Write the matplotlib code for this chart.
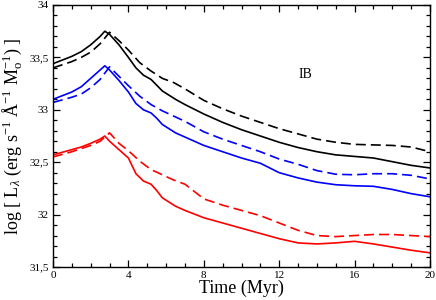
import matplotlib
matplotlib.use("Agg")
import matplotlib.pyplot as plt
from matplotlib.ticker import MultipleLocator, FixedLocator

plt.rcParams['font.family'] = ['Liberation Serif', 'DejaVu Serif']
plt.rcParams['mathtext.fontset'] = 'custom'
plt.rcParams['mathtext.rm'] = 'Liberation Serif'
plt.rcParams['mathtext.it'] = 'Liberation Serif:italic'

t_solid = [0, 1, 1.5, 2, 2.5, 2.75, 3, 3.5, 4, 4.4, 4.8, 5.2, 5.5, 5.8, 6.5, 7,
           8, 9, 10, 11, 12, 13, 14, 15, 16, 17, 18, 19, 20]
black_solid = [33.44, 33.51, 33.555, 33.62, 33.70, 33.75, 33.72, 33.62, 33.50, 33.40,
               33.33, 33.29, 33.235, 33.18, 33.10, 33.05, 32.96, 32.88, 32.81, 32.75,
               32.69, 32.64, 32.60, 32.57, 32.555, 32.54, 32.505, 32.47, 32.445]
blue_solid = [33.10, 33.17, 33.22, 33.30, 33.38, 33.42, 33.38, 33.28, 33.17, 33.06,
              33.00, 32.97, 32.92, 32.86, 32.78, 32.74, 32.66, 32.60, 32.54, 32.49,
              32.40, 32.35, 32.31, 32.285, 32.275, 32.27, 32.24, 32.20, 32.17]
red_solid = [32.57, 32.62, 32.645, 32.68, 32.72, 32.75, 32.70, 32.62, 32.54, 32.39,
             32.32, 32.29, 32.23, 32.16, 32.08, 32.04, 31.97, 31.92, 31.87, 31.82,
             31.77, 31.73, 31.72, 31.73, 31.745, 31.72, 31.69, 31.66, 31.635]

t_dashed = [0, 1, 1.5, 2, 2.5, 3, 3.5, 4, 4.6, 5.2, 5.8, 6.4, 7, 8, 9, 10, 11, 12,
            13, 14, 15, 16, 17, 18, 19, 20]
black_dashed = [33.40, 33.46, 33.50, 33.55, 33.63, 33.74, 33.66, 33.57, 33.45, 33.37,
                33.30, 33.26, 33.20, 33.09, 33.01, 32.94, 32.88, 32.82, 32.77, 32.72,
                32.69, 32.67, 32.665, 32.66, 32.645, 32.60]
blue_dashed = [33.07, 33.12, 33.15, 33.21, 33.29, 33.41, 33.32, 33.23, 33.13, 33.05,
               32.99, 32.94, 32.89, 32.79, 32.72, 32.66, 32.60, 32.53, 32.48, 32.42,
               32.385, 32.38, 32.39, 32.39, 32.375, 32.34]
red_dashed = [32.55, 32.60, 32.63, 32.66, 32.70, 32.78, 32.68, 32.61, 32.51, 32.43,
              32.38, 32.33, 32.29, 32.15, 32.09, 32.04, 31.99, 31.92, 31.85, 31.80,
              31.79, 31.80, 31.81, 31.81, 31.80, 31.79]

x_ticks = [0, 4, 8, 12, 16, 20]
y_ticks = [31.5, 32, 32.5, 33, 33.5, 34]
y_tick_labels = ['31,5', '32', '32,5', '33', '33,5', '34']

fig = plt.figure(figsize=(4.36, 3.0), dpi=100)
ax = fig.add_axes([53/436, 1-267/300, (430-53)/436, (267-5)/300])

lw = 1.2
dash = (0, (6, 3))
for ys, c in [(black_solid, 'black'), (blue_solid, '#0000ff'), (red_solid, '#ff0000')]:
    ax.plot(t_solid, ys, color=c, lw=lw, solid_joinstyle='round')
for ys, c in [(black_dashed, 'black'), (blue_dashed, '#0000ff'), (red_dashed, '#ff0000')]:
    ax.plot(t_dashed, ys, color=c, lw=lw, linestyle=dash)

ax.set_xlim(0, 20)
ax.set_ylim(31.5, 34)
ax.xaxis.set_major_locator(FixedLocator(x_ticks))
ax.xaxis.set_minor_locator(MultipleLocator(1))
ax.yaxis.set_major_locator(FixedLocator(y_ticks))
ax.set_yticklabels(y_tick_labels)
ax.yaxis.set_minor_locator(MultipleLocator(0.1))
ax.tick_params(which='both', direction='in', top=True, right=True, labelsize=8, width=0.9)
ax.tick_params(which='major', length=5, pad=3)
ax.tick_params(which='minor', length=3)
for s in ax.spines.values():
    s.set_linewidth(1.0)

ax.set_xlabel('Time (Myr)', fontsize=13, labelpad=0)
ax.set_ylabel(r'log [ L$_\lambda$ (erg s$^{-1}$ Å$^{-1}$ M$_{\rm o}^{-1}$) ]', fontsize=13, labelpad=4)
ax.text(13.4, 33.34, 'IB', fontsize=10, ha='center', va='center')

fig.savefig('out.png', dpi=100)
